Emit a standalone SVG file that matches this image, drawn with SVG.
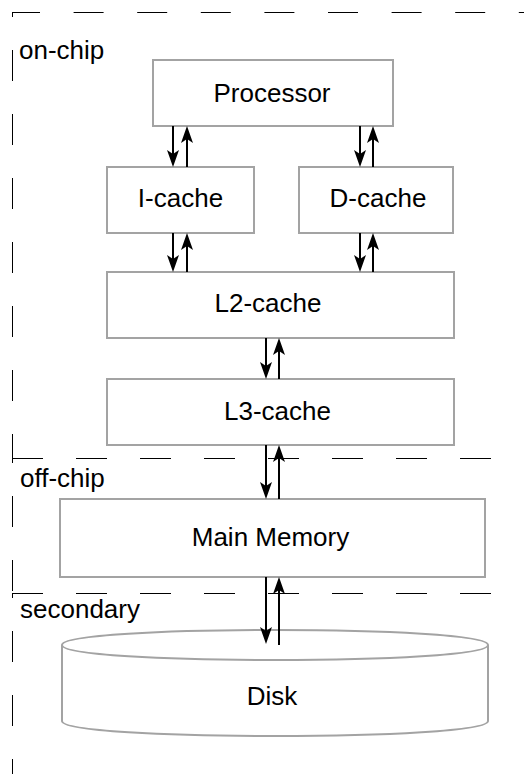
<svg xmlns="http://www.w3.org/2000/svg" width="524" height="774" viewBox="0 0 524 774">
  <style>
    .box { fill: #ffffff; stroke: #a3a3a3; stroke-width: 2; }
    .label { font-family: "Liberation Sans", Arial, Helvetica, sans-serif; font-size: 26px; fill: #000000; }
    .mid { text-anchor: middle; }
    .zone { fill: none; stroke: #000000; stroke-width: 1; }
    .hz { stroke-dasharray: 31 33; }
    .vt { stroke-dasharray: 31 33; stroke-dashoffset: 26; }
    .link { fill: none; stroke: #000000; stroke-width: 2; marker-end: url(#head); }
  </style>
  <defs>
    <marker id="head" markerUnits="userSpaceOnUse" viewBox="-6 -8 22 16" markerWidth="22" markerHeight="16" refX="0" refY="0" orient="auto">
      <path d="M13,0 L-4,-6 L0,0 L-4,6 Z" fill="#000000"/>
    </marker>
  </defs>

  <!-- memory-level zones -->
  <g id="zones">
    <path class="zone" d="M12,12.5 H524" style="stroke-dasharray: 30 33.6; stroke-dashoffset: 2"/>
    <path class="zone vt" d="M12.5,12 V458"/>
    <path class="zone hz" d="M12,458.5 H491"/>
    <path class="zone vt" d="M12.5,458 V592"/>
    <path class="zone hz" d="M12,593.5 H491"/>
    <path class="zone vt" d="M12.5,593 V774"/>
    <text class="label" x="19" y="59">on-chip</text>
    <text class="label" x="20" y="487">off-chip</text>
    <text class="label" x="20" y="618">secondary</text>
  </g>

  <g id="processor">
    <rect class="box" x="153" y="60" width="240" height="66"/>
    <text class="label mid" x="272" y="101.5">Processor</text>
  </g>
  <g id="i-cache">
    <rect class="box" x="107" y="167" width="147" height="66"/>
    <text class="label mid" x="180.5" y="207">I-cache</text>
  </g>
  <g id="d-cache">
    <rect class="box" x="299" y="167" width="154" height="66"/>
    <text class="label mid" x="378" y="207">D-cache</text>
  </g>
  <g id="l2-cache">
    <rect class="box" x="107" y="272" width="347" height="66"/>
    <text class="label mid" x="268" y="311.5">L2-cache</text>
  </g>
  <g id="l3-cache">
    <rect class="box" x="107" y="379" width="347" height="66"/>
    <text class="label mid" x="277.5" y="420">L3-cache</text>
  </g>
  <g id="main-memory">
    <rect class="box" x="60" y="499" width="425" height="78"/>
    <text class="label mid" x="270.5" y="545.5">Main Memory</text>
  </g>
  <g id="disk">
    <path class="box" d="M62,645 C62,625 488,625 488,645 L488,721 C488,741 62,741 62,721 Z"/>
    <path class="box" style="fill:none" d="M62,645 C62,665 488,665 488,645"/>
    <text class="label mid" x="272" y="705">Disk</text>
  </g>

  <!-- connectors: request down, reply up -->
  <g id="connectors">
    <line class="link" x1="173" y1="126" x2="173" y2="154"/>
    <line class="link" x1="187" y1="167" x2="187" y2="139"/>
    <line class="link" x1="360" y1="126" x2="360" y2="154"/>
    <line class="link" x1="373" y1="167" x2="373" y2="139"/>
    <line class="link" x1="173" y1="233" x2="173" y2="259"/>
    <line class="link" x1="187" y1="272" x2="187" y2="246"/>
    <line class="link" x1="360" y1="233" x2="360" y2="259"/>
    <line class="link" x1="373" y1="272" x2="373" y2="246"/>
    <line class="link" x1="266" y1="338" x2="266" y2="366"/>
    <line class="link" x1="279" y1="379" x2="279" y2="351"/>
    <line class="link" x1="266" y1="445" x2="266" y2="486"/>
    <line class="link" x1="279" y1="499" x2="279" y2="458"/>
    <line class="link" x1="266" y1="577" x2="266" y2="631"/>
    <line class="link" x1="279" y1="645" x2="279" y2="590"/>
  </g>
</svg>
